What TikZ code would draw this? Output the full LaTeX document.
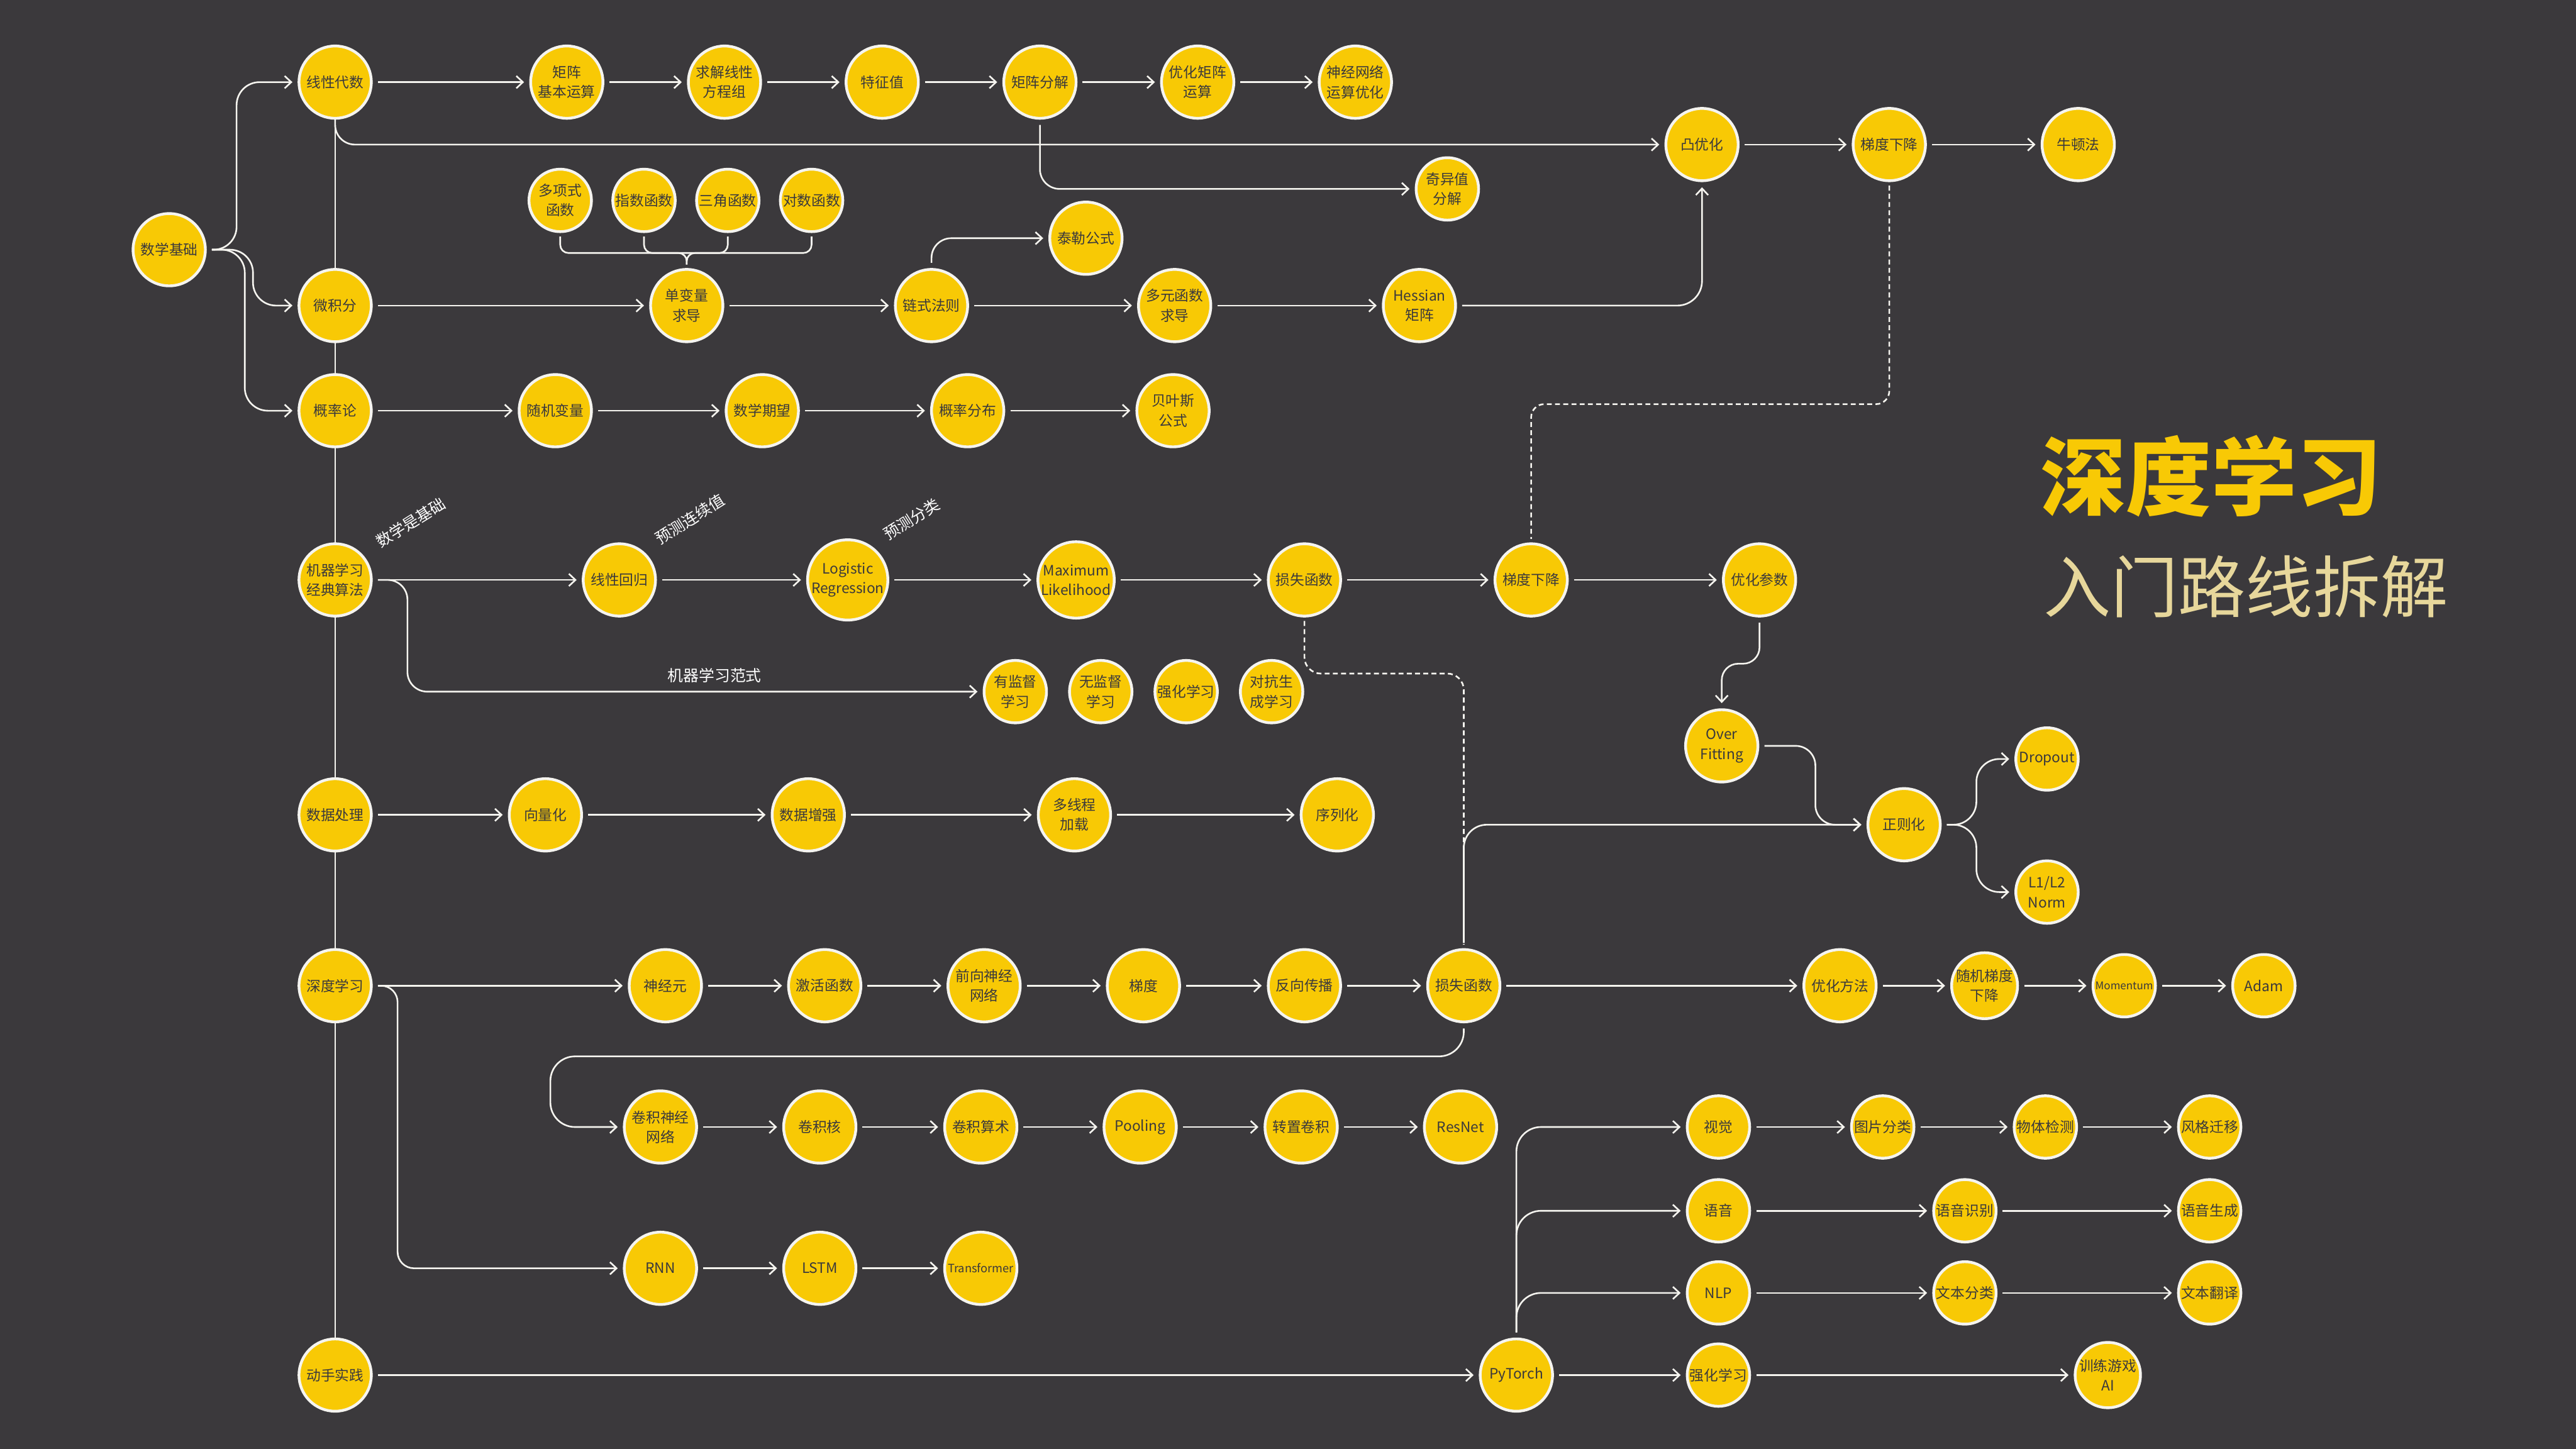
\documentclass[tikz,border=0pt]{standalone}
\usepackage{fontspec}
\usepackage{tikz}
\usetikzlibrary{arrows.meta}
\newfontfamily\cjkfont{Noto Sans CJK SC}
\newfontfamily\cjkheavy{Noto Sans CJK SC Black}
\definecolor{bgdark}{HTML}{3B393C}
\definecolor{nodeyellow}{HTML}{F8C905}
\definecolor{ringwhite}{HTML}{F5F4EF}
\definecolor{titlebeige}{HTML}{E7D79B}

\begin{document}
\begin{tikzpicture}[x=1pt,y=-1pt,
  topic/.style={circle,draw=ringwhite,line width=1.7pt,fill=nodeyellow,minimum size=44pt,
    inner sep=0pt,outer sep=0pt,align=center,text=bgdark,font=\cjkfont\fontsize{8.7}{12}\selectfont},
  subtopic/.style={topic,minimum size=38pt},
  link/.style={draw=ringwhite,line width=1pt,shorten <=4pt,shorten >=4pt,
    -{Straight Barb[length=4pt,width=7.5pt]}},
  spine/.style={draw=ringwhite,line width=1pt},
  hint/.style={draw=ringwhite,line width=1pt,dash pattern=on 3pt off 2pt,shorten <=3pt,shorten >=3pt},
  brace/.style={draw=ringwhite,line width=1pt},
  note/.style={text=white,inner sep=0pt,font=\cjkfont\fontsize{9.5}{11}\selectfont}]
\useasboundingbox (0,0) rectangle (1568,882);
\fill[bgdark] (0,0) rectangle (1568,882);

% title
\node[text=nodeyellow,inner sep=0pt,font=\cjkheavy\fontsize{52}{52}\selectfont] (title) at (1346,290) {深度学习};
\node[text=titlebeige,inner sep=0pt,font=\cjkfont\fontsize{41}{41}\selectfont] (subtitle) at (1367,357) {入门路线拆解};

% main column
\node[topic] (sxjc) at (103,152) {数学基础};
\node[topic] (xxds) at (204,50) {线性代数};
\node[topic] (wjf) at (204,186) {微积分};
\node[topic] (gll) at (204,250) {概率论};
\node[topic] (jqxx) at (204,353) {机器学习\\经典算法};
\node[topic] (sjcl) at (204,496) {数据处理};
\node[topic] (sdxx) at (204,600) {深度学习};
\node[topic] (dssj) at (204,837) {动手实践};

% linear algebra
\node[topic] (jzys) at (345,50) {矩阵\\基本运算};
\node[topic] (qjfc) at (441,50) {求解线性\\方程组};
\node[topic] (tzz) at (537,50) {特征值};
\node[topic] (jzfj) at (633,50) {矩阵分解};
\node[topic] (yhjz) at (729,50) {优化矩阵\\运算};
\node[topic] (sjwl) at (825,50) {神经网络\\运算优化};
\node[subtopic] (qyz) at (881,115) {奇异值\\分解};
\node[topic] (txyh) at (1036,88) {凸优化};
\node[topic] (tdxj) at (1150,88) {梯度下降};
\node[topic] (ndf) at (1265,88) {牛顿法};

% calculus
\node[subtopic] (dxs) at (341,122) {多项式\\函数};
\node[subtopic] (zshs) at (392,122) {指数函数};
\node[subtopic] (sjhs) at (443,122) {三角函数};
\node[subtopic] (dshs) at (494,122) {对数函数};
\node[topic] (tlgs) at (661,145) {泰勒公式};
\node[topic] (dbl) at (418,186) {单变量\\求导};
\node[topic] (lsfz) at (567,186) {链式法则};
\node[topic] (dyhs) at (715,186) {多元函数\\求导};
\node[topic] (hessian) at (864,186) {Hessian\\矩阵};

% probability
\node[topic] (sjbl) at (338,250) {随机变量};
\node[topic] (sxqw) at (464,250) {数学期望};
\node[topic] (glfb) at (589,250) {概率分布};
\node[topic] (byss) at (714,250) {贝叶斯\\公式};

% machine learning
\node[topic] (xxhg) at (377,353) {线性回归};
\node[topic] (logit) at (516,353) {Logistic\\Regression};
\node[topic] (mle) at (655,353) {Maximum\\Likelihood};
\node[topic] (ssml) at (794,353) {损失函数};
\node[topic] (tdml) at (932,353) {梯度下降};
\node[topic] (yhcs) at (1071,353) {优化参数};
\node[subtopic] (jdxx) at (618,421) {有监督\\学习};
\node[subtopic] (wjd) at (670,421) {无监督\\学习};
\node[subtopic] (qhml) at (722,421) {强化学习};
\node[subtopic] (dkxx) at (774,421) {对抗生\\成学习};
\node[topic] (ovf) at (1048,454) {Over\\Fitting};
\node[topic] (zzh) at (1159,502) {正则化};
\node[subtopic] (dropout) at (1246,462) {Dropout};
\node[subtopic] (lnorm) at (1246,543) {L1/L2\\Norm};
\node[note,rotate=32] (lbsx) at (250,318) {数学是基础};
\node[note,rotate=32] (lbhg) at (420,316) {预测连续值};
\node[note,rotate=32] (lbfl) at (555,316) {预测分类};
\node[note] (lbfs) at (435,411) {机器学习范式};

% data
\node[topic] (xlh) at (332,496) {向量化};
\node[topic] (sjzq) at (492,496) {数据增强};
\node[topic] (dxc) at (654,496) {多线程\\加载};
\node[topic] (xlhua) at (814,496) {序列化};

% deep learning
\node[topic] (sjy) at (405,600) {神经元};
\node[topic] (jhhs) at (502,600) {激活函数};
\node[topic] (qxsj) at (599,600) {前向神经\\网络};
\node[topic] (td) at (696,600) {梯度};
\node[topic] (fxcb) at (794,600) {反向传播};
\node[topic] (ssdl) at (891,600) {损失函数};
\node[topic] (yhff) at (1120,600) {优化方法};
\node[subtopic] (sgd) at (1208,600) {随机梯度\\下降};
\node[subtopic,font=\cjkfont\fontsize{6.5}{8}\selectfont] (mom) at (1293,600) {Momentum};
\node[subtopic] (adam) at (1378,600) {Adam};
\node[topic] (cnn) at (402,686) {卷积神经\\网络};
\node[topic] (jjh) at (499,686) {卷积核};
\node[topic] (jjss) at (597,686) {卷积算术};
\node[topic] (pool) at (694,686) {Pooling};
\node[topic] (zzjj) at (792,686) {转置卷积};
\node[topic] (resnet) at (889,686) {ResNet};
\node[topic] (rnn) at (402,772) {RNN};
\node[topic] (lstm) at (499,772) {LSTM};
\node[topic,font=\cjkfont\fontsize{7}{8}\selectfont] (tfm) at (597,772) {Transformer};

% practice
\node[topic] (pyt) at (923,837) {PyTorch};
\node[subtopic] (qhdl) at (1046,837) {强化学习};
\node[subtopic] (yxai) at (1283,837) {训练游戏\\AI};
\node[subtopic] (sj) at (1046,686) {视觉};
\node[subtopic] (tpfl) at (1146,686) {图片分类};
\node[subtopic] (wtjc) at (1245,686) {物体检测};
\node[subtopic] (fgqy) at (1345,686) {风格迁移};
\node[subtopic] (yy) at (1046,737) {语音};
\node[subtopic] (yysb) at (1196,737) {语音识别};
\node[subtopic] (yysc) at (1345,737) {语音生成};
\node[subtopic] (nlp) at (1046,787) {NLP};
\node[subtopic] (wbfl) at (1196,787) {文本分类};
\node[subtopic] (wbfy) at (1345,787) {文本翻译};

% spine
\draw[spine] (xxds) -- (wjf);
\draw[spine] (wjf) -- (gll);
\draw[spine] (gll) -- (jqxx);
\draw[spine] (jqxx) -- (sjcl);
\draw[spine] (sjcl) -- (sdxx);
\draw[spine] (sdxx) -- (dssj);

% math
\draw[link,rounded corners=14pt] (sxjc) -| (144,50) -- (xxds);
\draw[link,rounded corners=14pt] (sxjc) -| (154,186) -- (wjf);
\draw[link,rounded corners=14pt] (sxjc) -| (149,250) -- (gll);
\draw[link] (xxds) -- (jzys);
\draw[link] (jzys) -- (qjfc);
\draw[link] (qjfc) -- (tzz);
\draw[link] (tzz) -- (jzfj);
\draw[link] (jzfj) -- (yhjz);
\draw[link] (yhjz) -- (sjwl);
\draw[link,rounded corners=12pt,shorten <=0pt] (xxds) |- (txyh);
\draw[link,rounded corners=12pt] (jzfj) |- (qyz);
\draw[link] (txyh) -- (tdxj);
\draw[link] (tdxj) -- (ndf);
\draw[hint,rounded corners=8pt] (tdxj) -- (1150,246) -| (tdml);

\draw[brace,rounded corners=5pt] ([yshift=-3pt]dxs.south) |- ([yshift=10pt]dbl.north) -- ([yshift=3pt]dbl.north);
\draw[brace,rounded corners=5pt] ([yshift=-3pt]dshs.south) |- ([yshift=10pt]dbl.north) -- ([yshift=3pt]dbl.north);
\draw[brace,rounded corners=5pt] ([yshift=-3pt]zshs.south) |- ([yshift=10pt]dbl.north);
\draw[brace,rounded corners=5pt] ([yshift=-3pt]sjhs.south) |- ([yshift=10pt]dbl.north);
\draw[link] (wjf) -- (dbl);
\draw[link] (dbl) -- (lsfz);
\draw[link] (lsfz) -- (dyhs);
\draw[link] (dyhs) -- (hessian);
\draw[link,rounded corners=12pt] (lsfz) |- (tlgs);
\draw[link,rounded corners=15pt] (hessian) -| (txyh);

\draw[link] (gll) -- (sjbl);
\draw[link] (sjbl) -- (sxqw);
\draw[link] (sxqw) -- (glfb);
\draw[link] (glfb) -- (byss);

% machine learning
\draw[link] (jqxx) -- (xxhg);
\draw[link] (xxhg) -- (logit);
\draw[link] (logit) -- (mle);
\draw[link] (mle) -- (ssml);
\draw[link] (ssml) -- (tdml);
\draw[link] (tdml) -- (yhcs);
\draw[link,rounded corners=12pt] (jqxx) -| (248,421) -- (jdxx);
\draw[hint,rounded corners=10pt] (ssml) -- (794,410) -| (ssdl);
\draw[link,rounded corners=10pt] (yhcs) -- (1071,404) -| (ovf);
\draw[link,rounded corners=12pt] (ovf) -| (1105,502) -- (zzh);
\draw[link,rounded corners=14pt] (zzh) -| (1203,462) -- (dropout);
\draw[link,rounded corners=14pt] (zzh) -| (1203,543) -- (lnorm);

% data
\draw[link] (sjcl) -- (xlh);
\draw[link] (xlh) -- (sjzq);
\draw[link] (sjzq) -- (dxc);
\draw[link] (dxc) -- (xlhua);

% deep learning
\draw[link] (sdxx) -- (sjy);
\draw[link] (sjy) -- (jhhs);
\draw[link] (jhhs) -- (qxsj);
\draw[link] (qxsj) -- (td);
\draw[link] (td) -- (fxcb);
\draw[link] (fxcb) -- (ssdl);
\draw[link] (ssdl) -- (yhff);
\draw[link] (yhff) -- (sgd);
\draw[link] (sgd) -- (mom);
\draw[link] (mom) -- (adam);
\draw[link,rounded corners=14pt] (ssdl) |- (zzh);
\draw[link,rounded corners=15pt] (ssdl) |- (335,643) |- (cnn);
\draw[link] (cnn) -- (jjh);
\draw[link] (jjh) -- (jjss);
\draw[link] (jjss) -- (pool);
\draw[link] (pool) -- (zzjj);
\draw[link] (zzjj) -- (resnet);
\draw[link,rounded corners=10pt] (sdxx) -| (242,772) -- (rnn);
\draw[link] (rnn) -- (lstm);
\draw[link] (lstm) -- (tfm);

% practice
\draw[link] (dssj) -- (pyt);
\draw[link] (pyt) -- (qhdl);
\draw[link] (qhdl) -- (yxai);
\draw[link,rounded corners=15pt] (pyt) |- (sj);
\draw[link,rounded corners=15pt] (pyt) |- (yy);
\draw[link,rounded corners=15pt] (pyt) |- (nlp);
\draw[link] (sj) -- (tpfl);
\draw[link] (tpfl) -- (wtjc);
\draw[link] (wtjc) -- (fgqy);
\draw[link] (yy) -- (yysb);
\draw[link] (yysb) -- (yysc);
\draw[link] (nlp) -- (wbfl);
\draw[link] (wbfl) -- (wbfy);
\end{tikzpicture}
\end{document}
